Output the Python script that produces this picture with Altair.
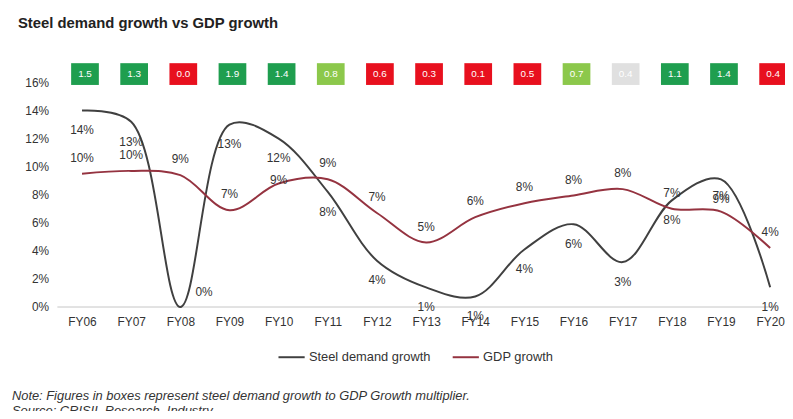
import altair as alt
import pandas as pd

years = ["FY06", "FY07", "FY08", "FY09", "FY10", "FY11", "FY12", "FY13",
         "FY14", "FY15", "FY16", "FY17", "FY18", "FY19", "FY20"]
steel = [14.0, 13.2, 0.0, 13.0, 12.0, 8.2, 3.3, 1.4, 0.75, 4.1, 5.9, 3.2, 7.6, 9.1, 1.4]
gdp = [9.5, 9.7, 9.4, 6.9, 8.8, 9.1, 6.7, 4.6, 6.4, 7.4, 7.95, 8.4, 7.0, 6.8, 4.2]
steel_labels = ["14%", "13%", "0%", "13%", "12%", "8%", "4%", "1%", "1%", "4%",
                "6%", "3%", "8%", "9%", "1%"]
gdp_labels = ["10%", "10%", "9%", "7%", "9%", "9%", "7%", "5%", "6%", "8%",
              "8%", "8%", "7%", "7%", "4%"]
multipliers = ["1.5", "1.3", "0.0", "1.9", "1.4", "0.8", "0.6", "0.3", "0.1", "0.5",
               "0.7", "0.4", "1.1", "1.4", "0.4"]
box_class = ["high", "high", "low", "high", "high", "mid", "low", "low", "low", "low",
             "mid", "na", "high", "high", "low"]
series_names = ["Steel demand growth", "GDP growth"]
y_ticks = [0, 2, 4, 6, 8, 10, 12, 14, 16]

title = "Steel demand growth vs GDP growth"
note = "Note: Figures in boxes represent steel demand growth to GDP Growth multiplier."
source = "Source: CRISIL Research, Industry"

FONT = "Liberation Sans"
TXT = "#333333"
STEEL_C = "#404040"
GDP_C = "#953340"

rows = []
for i, y in enumerate(years):
    rows.append({"year": y, "series": series_names[0], "value": steel[i], "label": steel_labels[i]})
    rows.append({"year": y, "series": series_names[1], "value": gdp[i], "label": gdp_labels[i]})
df = pd.DataFrame(rows)

boxes = pd.DataFrame({"year": years, "mult": multipliers, "cls": box_class})

W, H = 727, 241
x_axis = alt.Axis(title=None, domain=False, ticks=False, labelAngle=0,
                  labelFont=FONT, labelFontSize=12, labelColor=TXT,
                  labelPadding=10, grid=False, labelOverlap=False)
x_scale = alt.Scale(type="point", padding=0.32, align=0.78)
y_scale = alt.Scale(domain=[0, 17], nice=False, zero=True)
y_axis = alt.Axis(title=None, domain=False, ticks=False, grid=False,
                  values=y_ticks, labelExpr="datum.value + '%'",
                  labelFont=FONT, labelFontSize=12, labelColor=TXT,
                  labelPadding=9, labelOverlap=False, labelFlush=False)

def X():
    return alt.X("year:N", sort=years, scale=x_scale, axis=x_axis)

def Y(field="value"):
    return alt.Y(f"{field}:Q", scale=y_scale, axis=y_axis)

base = alt.Chart(df)

baseline = base.transform_filter(alt.datum.year == "FY06").transform_calculate(
    zero="0").mark_rule(color="#d9d9d9", strokeWidth=1).encode(
    y=Y("zero"), x=alt.value(0), x2=alt.value(W))

lines = base.mark_line(interpolate="catmull-rom", strokeWidth=2).encode(
    x=X(), y=Y(),
    color=alt.Color("series:N",
                    scale=alt.Scale(domain=series_names, range=[STEEL_C, GDP_C]),
                    legend=alt.Legend(title=None, orient="none", direction="horizontal",
                                      legendX=222, legendY=277,
                                      symbolType="stroke", symbolSize=700,
                                      symbolStrokeWidth=2, columnPadding=18,
                                      labelFont=FONT, labelFontSize=13,
                                      labelColor=TXT, labelOffset=3)))

txt = dict(font=FONT, fontSize=12, color=TXT)

def xy():
    return dict(x=X(), y=Y(), text="label:N")

steel_txt = base.transform_filter(
    (alt.datum.series == series_names[0]) & (alt.datum.year != "FY08")
).mark_text(dy=20, **txt).encode(**xy())

steel_txt_08 = base.transform_filter(
    (alt.datum.series == series_names[0]) & (alt.datum.year == "FY08")
).mark_text(dx=24, dy=-15, **txt).encode(**xy())

gdp_txt = base.transform_filter(
    (alt.datum.series == series_names[1]) & (alt.datum.year != "FY10")
).mark_text(dy=-16, **txt).encode(**xy())

gdp_txt_10 = base.transform_filter(
    (alt.datum.series == series_names[1]) & (alt.datum.year == "FY10")
).mark_text(dy=-4, **txt).encode(**xy())

box_colors = alt.Scale(domain=["high", "mid", "low", "na"],
                       range=["#1f9e4f", "#8cc84b", "#e8101e", "#e0e0e0"])
boxes_base = alt.Chart(boxes).transform_calculate(row="16.6")
box_rect = boxes_base.mark_rect(width=28, height=22, xOffset=3).encode(
    x=X(), y=Y("row"),
    color=alt.Color("cls:N", scale=box_colors, legend=None))
box_text = boxes_base.mark_text(font=FONT, fontSize=10, color="white", xOffset=3).encode(
    x=X(), y=Y("row"), text="mult:N")

notes = alt.Chart(pd.DataFrame({"t": [note, source], "yy": [331, 346]})).mark_text(
    align="left", baseline="middle", font=FONT, fontSize=13, fontStyle="italic", color=TXT
).encode(x=alt.value(-46), y=alt.Y("yy:Q", scale=None), text="t:N")

chart = alt.layer(baseline, lines, steel_txt, steel_txt_08, gdp_txt, gdp_txt_10,
                  box_rect, box_text, notes).resolve_scale(
    color="independent"
).properties(
    width=W, height=H,
    padding={"left": 50, "top": 59, "right": 8, "bottom": 103},
    autosize=alt.AutoSizeParams(type="none"),
    title=alt.TitleParams(title, anchor="start", dx=6, offset=33, fontSize=15,
                          fontWeight="bold", font=FONT, color="#222222"),
).configure_view(stroke=None)

chart.save("out.html", embed_options={"renderer": "svg", "actions": False})
